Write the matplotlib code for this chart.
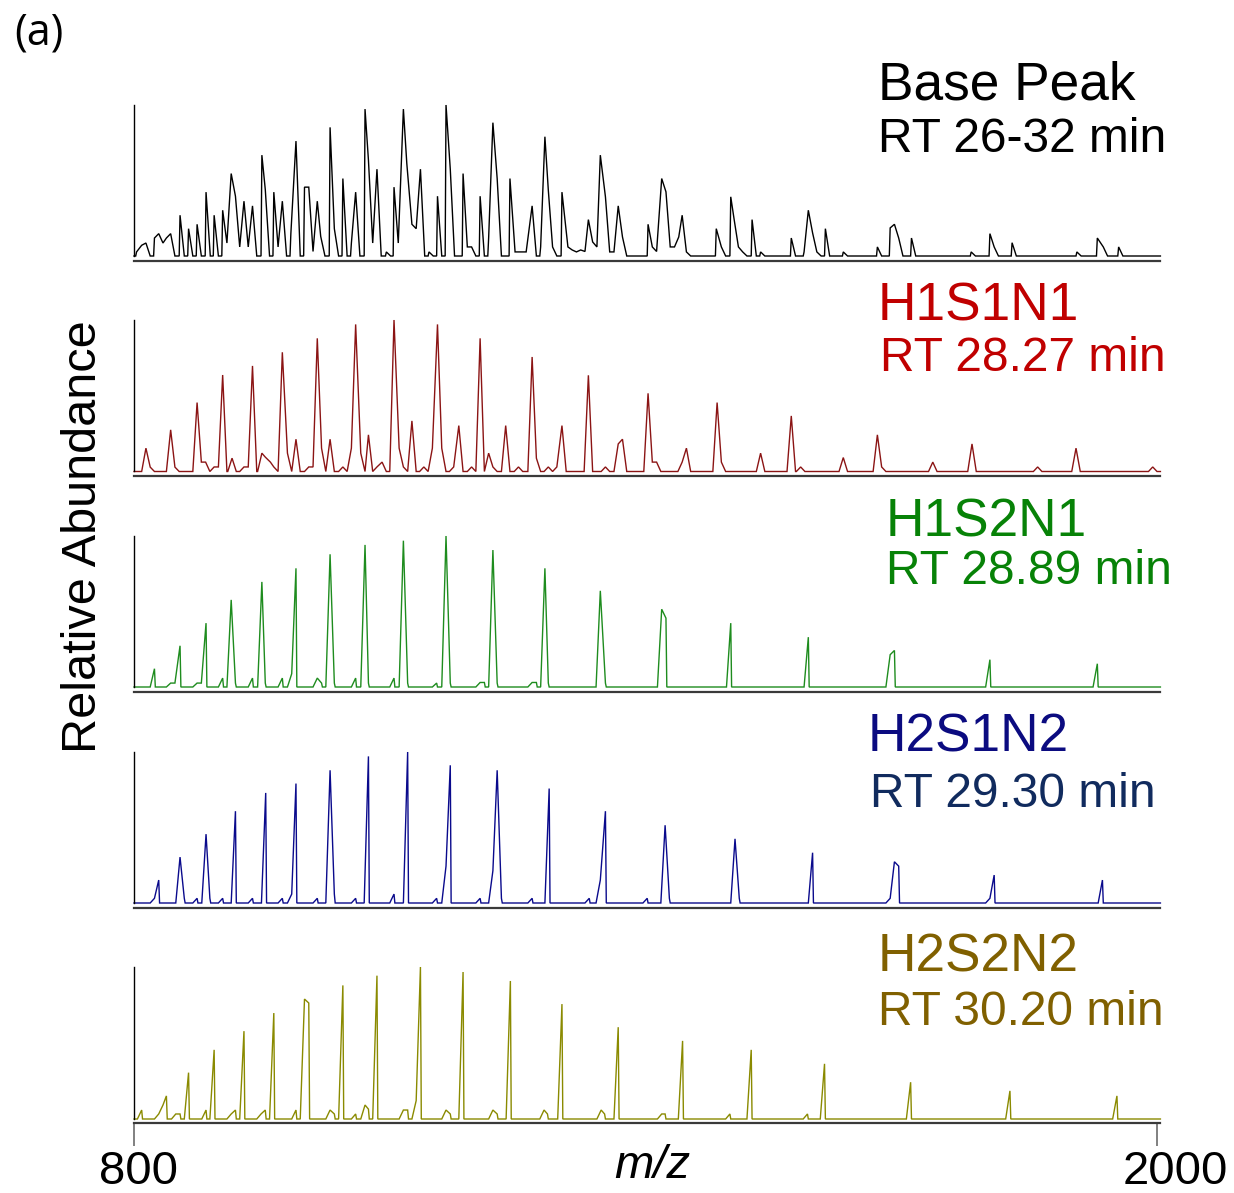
import numpy as np
import matplotlib.pyplot as plt
from matplotlib.transforms import ScaledTranslation

plt.rcParams['font.family'] = ['Liberation Sans', 'DejaVu Sans']

# peak lists: m/z and relative intensity (% of panel maximum)
bp_mz = [803, 809, 814, 824, 829, 834, 838, 843, 854, 864, 874, 884.5, 894, 904, 909,
         914, 919, 924, 929, 934, 939, 950, 954, 964, 969, 974, 984, 990, 1000, 1005,
         1010, 1015, 1019, 1030, 1035, 1045, 1055, 1060, 1071, 1075, 1080, 1085, 1096,
         1105, 1110, 1116, 1120, 1126, 1131, 1136, 1146, 1156, 1166, 1171, 1186, 1191,
         1196, 1206, 1216, 1221, 1226, 1241, 1247, 1251, 1256, 1260, 1267, 1277, 1282,
         1286, 1291, 1302, 1309, 1314, 1319, 1324, 1329, 1333, 1338, 1343, 1347, 1353,
         1358, 1363, 1368, 1373, 1403, 1408, 1413, 1419, 1424, 1429, 1434, 1439, 1443,
         1448, 1483, 1489, 1500, 1504, 1509, 1514, 1525, 1535, 1571, 1586, 1591, 1596,
         1601, 1611, 1632, 1672, 1687, 1692, 1697, 1712, 1782, 1804, 1809, 1830, 1906,
         1930, 1937, 1955]
bp_int = [2.7, 7.1, 8.6, 11.9, 14.8, 8.6, 11.9, 14.8, 27.0, 18.1, 21.0, 42.3, 27.0, 30.3, 8.6,
          54.6, 39.6, 6, 36.3, 6, 33.2, 66.8, 44.0, 42.3, 6, 36.3, 14.8, 76.1, 45.6, 45.6,
          3, 36.3, 13, 85.2, 18.1, 51.3, 8.6, 42.3, 97.3, 63.5, 8.6, 57.5, 2.7,
          45.6, 8.6, 97.3, 61.3, 21.0, 18.1, 57.5, 2.7, 39.6, 100, 57.5, 54.6, 6,
          6, 39.6, 11.9, 88.3, 51.3, 51.3, 2.7, 2.7, 2.7, 2.7, 33.2, 6, 79.0,
          43.6, 6, 42.3, 6, 4, 2.7, 4, 3, 24.1, 9.3, 6, 66.8, 39.2,
          2.7, 2.7, 33.2, 12.6, 21.0, 6, 3, 51.3, 42.5, 6, 6, 12.6, 27.0,
          2.7, 18.1, 6, 39.2, 24.1, 6, 2.7, 24.1, 2.7, 11.9, 2.7, 30.3, 15.3,
          2.7, 18.1, 2.7, 6, 18.6, 21.0, 11.9, 11.9, 2.7, 14.8, 6, 8.8, 2.7,
          11.9, 6, 6]

h1s1n1_mz = [814, 819, 843, 848, 874, 879, 884, 894, 899, 904, 915, 929, 934, 939, 950,
             954, 960, 964, 974, 980, 990, 1005, 1010, 1015, 1020, 1030, 1045, 1055, 1060,
             1066, 1075, 1085, 1091, 1105, 1111, 1116, 1126, 1140, 1150, 1156, 1161, 1175,
             1181, 1196, 1206, 1216, 1221, 1236, 1251, 1267, 1272, 1286, 1296, 1302, 1333,
             1353, 1368, 1373, 1403, 1408, 1413, 1443, 1448, 1484, 1489, 1535, 1571, 1582,
             1632, 1672, 1677, 1737, 1783, 1860, 1905, 1995]
h1s1n1_int = [15.4, 2.9, 27.5, 2.9, 45.5, 6.2, 6.2, 3, 3, 63.7, 8.8, 3, 3, 69.7, 12.1,
              9.5, 6.2, 3, 78.7, 12.1, 21.3, 3, 3, 87.9, 15.4, 21.3, 3, 15.4, 97.1,
              12.1, 24.2, 3, 6.2, 100, 15.4, 3, 33.4, 3, 15.4, 97.1, 15.4, 3,
              30.3, 3, 87.9, 12.1, 3, 30.3, 3, 75.6, 8.8, 3, 3, 30.3, 63.5,
              3, 18.2, 21.3, 51.6, 6.2, 6.2, 6.2, 15.4, 45.5, 6.2, 12.1, 36.7, 3,
              9.2, 24.2, 3, 6.2, 18.2, 3, 15.4, 3]

h1s2n1_mz = [824, 843, 848, 854, 874, 879, 884.5, 904, 914, 919, 939, 950, 954, 974, 985,
             990, 1015, 1020, 1030, 1035, 1060, 1071, 1075, 1105, 1116, 1121, 1155, 1166,
             1171, 1206, 1211, 1221, 1226, 1267, 1272, 1282, 1286, 1347, 1353, 1419, 1424,
             1500, 1591, 1687, 1692, 1804, 1930]
h1s2n1_int = [12.1, 2.6, 2.6, 27.3, 2.6, 2.6, 42.3, 5.9, 57.7, 2.6, 5.9, 69.6, 2.6, 5.9, 8.8,
              78.6, 5.9, 2.6, 87.9, 2.6, 5.9, 94.1, 2.6, 5.9, 96.9, 2.6, 2.6, 100,
              2.6, 3, 3, 90.7, 2.6, 3, 3, 78.6, 2.6, 63.7, 2.6, 51.5, 45.6,
              42.3, 33, 21.4, 24.2, 18.1, 15.4]

h2s1n2_mz = [824, 829, 854, 859, 874, 884.5, 889, 904, 919, 939, 954.5, 974, 985, 990, 1015,
             1030, 1035, 1060, 1075, 1105, 1121, 1155, 1166, 1171, 1206, 1221, 1226, 1231,
             1267, 1287, 1334, 1347, 1353, 1402, 1423, 1428, 1505, 1510, 1596, 1687, 1692,
             1697, 1804, 1809, 1936]
h2s1n2_int = [3.1, 15.2, 30.4, 3.1, 3.1, 45.6, 3.1, 3.1, 60.8, 3.1, 72.9, 3.1, 5.9, 79.1, 3.1,
              87.9, 5.9, 3.1, 97.1, 5.9, 100, 3.1, 24.4, 91.2, 3.1, 21.4, 87.9, 3.1,
              3.1, 75.8, 3.1, 15.2, 60.8, 3.1, 51.5, 3.1, 42.5, 3.1, 33.3, 3.1, 27.3,
              24.4, 3.1, 18.5, 15.2]

h2s2n2_mz = [809, 829, 834, 838, 849, 854, 864, 884.5, 894, 914, 919, 929, 949, 954, 964,
             990, 1000, 1005, 1030, 1035, 1045, 1060, 1071, 1075, 1085, 1116, 1121, 1131,
             1136, 1166, 1171, 1186, 1221, 1226, 1241.5, 1281, 1285, 1302, 1348, 1352, 1368,
             1419, 1423, 1443.5, 1499, 1524, 1590, 1610, 1711, 1827.5, 1953]
h2s2n2_int = [5.9, 3.3, 9.2, 15.2, 3.3, 3.3, 30.5, 5.9, 45.5, 3.3, 5.9, 57.8, 3.3, 5.9, 69.7,
              5.9, 78.9, 76.3, 5.9, 3.3, 87.9, 3.3, 9.2, 6.5, 94.3, 5.9, 5.9, 12.1,
              100, 5.9, 3.3, 96.7, 5.9, 3.3, 90.8, 5.9, 3.3, 75.6, 5.9, 3.3, 60.4,
              3.3, 3.3, 51.4, 3.3, 45.5, 3.3, 36.3, 24.2, 18.5, 15.2]

names = ['Base Peak', 'H1S1N1', 'H1S2N1', 'H2S1N2', 'H2S2N2']
rt_labels = ['RT 26-32 min', 'RT 28.27 min', 'RT 28.89 min', 'RT 29.30 min', 'RT 30.20 min']
spectra = [(bp_mz, bp_int), (h1s1n1_mz, h1s1n1_int), (h1s2n1_mz, h1s2n1_int),
           (h2s1n2_mz, h2s1n2_int), (h2s2n2_mz, h2s2n2_int)]
line_colors = ['black', '#8B1414', '#1E8C1E', '#0A0A8C', '#8A8A00']
name_colors = ['black', '#C00000', '#078207', '#0B0B80', '#806000']
rt_colors = ['black', '#C00000', '#078207', '#112B5E', '#806000']
mz_min, mz_max = 800, 2000

# leading / trailing edge widths of each peak (m/z)
rise_widths = [1.0, 5.0, 5.0, 5.0, 5.0]
fall_widths = [5.0, 5.0, 1.0, 1.0, 1.0]


def profile(mz, inten, rise=5.0, fall=5.0, lo=800, hi=2004, step=5.0):
    """Turn a peak list into a binned profile trace."""
    xs, ys = [lo], [0.0]
    prev = None
    for m, h in zip(mz, inten):
        if prev is None or m - prev > 1.5 * step:
            if prev is not None:
                xs.append(prev + fall)
                ys.append(0.0)
            xs.append(max(m - rise, xs[-1]))
            ys.append(0.0)
        xs.append(m)
        ys.append(h)
        prev = m
    xs += [prev + fall, hi]
    ys += [0.0, 0.0]
    return np.array(xs), np.array(ys)


W, H = 1234, 1193
fig = plt.figure(figsize=(W / 100, H / 100), dpi=100)

# pixel layout of each panel: top of scale, trace baseline, axis line
panel_px = [(105, 256, 261), (320, 471.5, 476), (536, 687, 692), (752, 903, 907.5), (967, 1119, 1123)]
name_pos = [(878, 100), (878, 320), (886, 537), (868, 752), (878, 972)]
rt_pos = [(878, 152), (880, 371), (886, 584), (870, 807), (878, 1025)]

x_left, x_right = 134, 1157
px_per_mz = (x_right - x_left) / (mz_max - mz_min)
x_hi = 2004

for i, (top, base, under) in enumerate(panel_px):
    ax = fig.add_axes([x_left / W, 1 - under / H,
                       (x_hi - mz_min) * px_per_mz / W, (under - top) / H])
    off = (under - base) / (base - top) * 100
    ax.set_xlim(mz_min, x_hi)
    ax.set_ylim(-off, 100)
    mz, inten = spectra[i]
    xs, ys = profile(mz, inten, rise=rise_widths[i], fall=fall_widths[i])
    ax.plot(xs, ys, color=line_colors[i], lw=1.0, clip_on=False, solid_joinstyle='miter')

    for s in ['top', 'right']:
        ax.spines[s].set_visible(False)
    ax.spines['left'].set_bounds(0, 100)
    ax.spines['left'].set_linewidth(1.0)
    ax.spines['bottom'].set_bounds(mz_min, mz_max + 3)
    ax.spines['bottom'].set_color('#3a3a3a')
    ax.spines['bottom'].set_linewidth(1.6)
    ax.set_yticks([])

    if i < 4:
        ax.set_xticks([])
    else:
        ax.set_xticks([mz_min, mz_max])
        ax.set_xticklabels(['800', '2000'], fontsize=34)
        ax.tick_params(axis='x', direction='out', length=16.5, width=1.4,
                       color='#808080', pad=3)
        for lab, dx in zip(ax.get_xticklabels(), [5, 18]):
            lab.set_transform(lab.get_transform() + ScaledTranslation(dx / 100, 0, fig.dpi_scale_trans))

    nx, ny = name_pos[i]
    fig.text(nx / W, 1 - ny / H, names[i], fontsize=38.3, color=name_colors[i], va='baseline', ha='left')
    rx, ry = rt_pos[i]
    fig.text(rx / W, 1 - ry / H, rt_labels[i], fontsize=34.5, color=rt_colors[i], va='baseline', ha='left')

fig.text(652 / W, 1 - 1166 / H, 'm/z', fontsize=34, style='italic', ha='center', va='center')
fig.text(84 / W, 1 - 537 / H, 'Relative Abundance', fontsize=35, rotation=90, ha='center', va='center')
fig.text(14 / W, 1 - 33 / H, '(a)', fontsize=31, ha='left', va='center',
         family=['Open Sans', 'DejaVu Sans'])

fig.savefig('out.png', dpi=100)
